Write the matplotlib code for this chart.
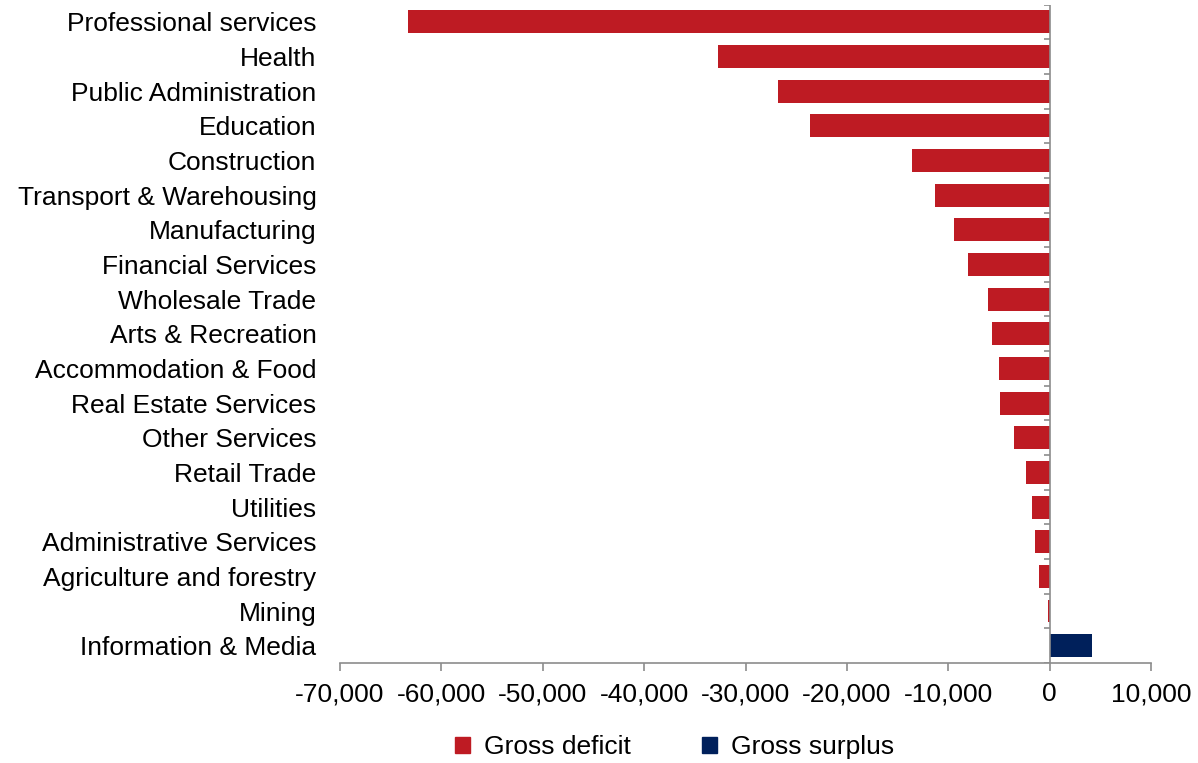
import numpy as np
import matplotlib.pyplot as plt
from matplotlib.patches import Patch

plt.rcParams['font.family'] = ['Liberation Sans', 'DejaVu Sans']

# Sektörler (üstten alta)
sektorler = ['Professional services', 'Health', 'Public Administration', 'Education',
             'Construction', 'Transport & Warehousing', 'Manufacturing', 'Financial Services',
             'Wholesale Trade', 'Arts & Recreation', 'Accommodation & Food',
             'Real Estate Services', 'Other Services', 'Retail Trade', 'Utilities',
             'Administrative Services', 'Agriculture and forestry', 'Mining',
             'Information & Media']
degerler = [-63300, -32700, -26750, -23650, -13550, -11280, -9410, -8030, -6040, -5700,
            -5000, -4880, -3470, -2350, -1720, -1430, -1100, -150, 4190]
x_tikler = [-70000, -60000, -50000, -40000, -30000, -20000, -10000, 0, 10000]

KIRMIZI = '#BE1B23'
LACIVERT = '#00205B'
GRI = '#8C8C8C'

fig = plt.figure(figsize=(11.98, 7.63), dpi=100)
ax = fig.add_axes([0.2838, 0.131, 0.677, 0.863])

n = len(sektorler)
y = np.arange(n)
renkler = [KIRMIZI if d < 0 else LACIVERT for d in degerler]
ax.barh(y, degerler, height=0.66, color=renkler)

ax.set_xlim(x_tikler[0], x_tikler[-1])
ax.set_ylim(n - 0.5, -0.5)

# Eksenler
for s in ['top', 'right', 'left']:
    ax.spines[s].set_visible(False)
ax.spines['bottom'].set_color(GRI)
ax.spines['bottom'].set_linewidth(1.2)
ax.axvline(0, color=GRI, lw=1.2)

# Kategori sınırlarında küçük tikler
tik_boyu = (x_tikler[-1] - x_tikler[0]) * 0.007
ax.hlines(np.arange(-0.5, n), -tik_boyu, 0, color=GRI, lw=1.2)

ax.set_yticks(y)
ax.set_yticklabels(sektorler, fontsize=19)
ax.tick_params(axis='y', length=0, pad=17)

ax.set_xticks(x_tikler)
ax.set_xticklabels([f'{t:,}' for t in x_tikler], fontsize=19)
ax.tick_params(axis='x', length=6, width=1.2, color=GRI, pad=8)

# Lejant
el = [Patch(color=KIRMIZI, label='Gross deficit'), Patch(color=LACIVERT, label='Gross surplus')]
fig.legend(handles=el, loc='center', bbox_to_anchor=(0.5634, 0.021), ncol=2, frameon=False,
           fontsize=19, handlelength=0.55, handleheight=0.55, handletextpad=0.55,
           columnspacing=2.7)

fig.savefig('out.png', dpi=100)
